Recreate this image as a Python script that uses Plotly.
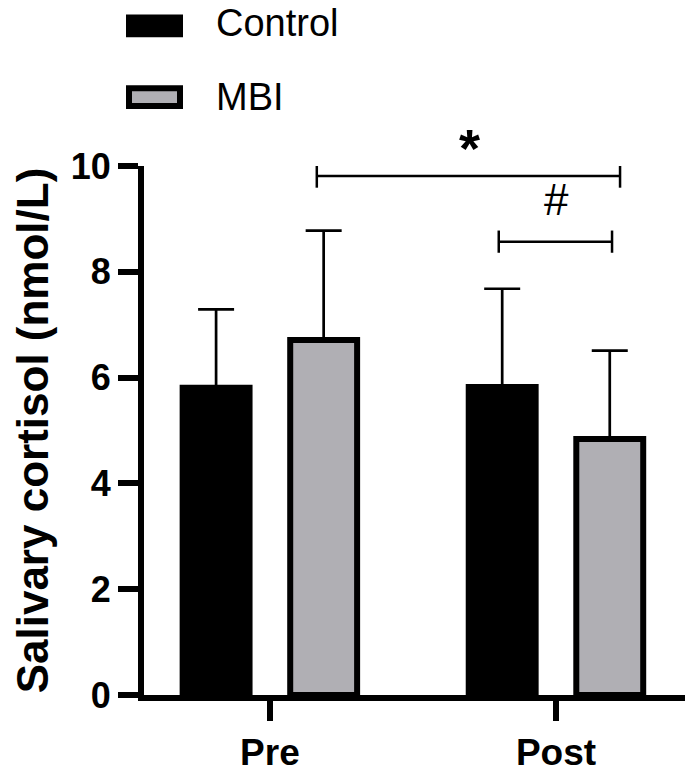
import plotly.graph_objects as go

# ---------------- data ----------------
TIMEPOINTS = ["Pre", "Post"]
GROUPS = ["Control", "MBI"]
CONTROL_MEAN = [5.81, 5.82]
CONTROL_SD = [1.48, 1.86]
MBI_MEAN = [6.71, 4.84]
MBI_SD = [2.07, 1.67]
Y_TICKS = [0, 2, 4, 6, 8, 10]

# ---------------- style ----------------
FONT = "Liberation Sans, Arial, sans-serif"
BLACK = "#000000"
GREY = "#B0AFB4"

# the page body has an 8px margin, so the figure is drawn 8px smaller
OFF = 8
W, H = 693 - OFF, 779 - OFF
L, R, T, B = 144 - OFF, 6, 166 - OFF, 75
PW, PH = W - L - R, H - T - B


def px_x(px):
    # page pixel -> paper x
    return (px - OFF - L) / PW


def px_y(py):
    # page pixel -> paper y
    return (704 - py) / PH


fig = go.Figure()

fig.add_trace(go.Bar(
    name=GROUPS[0], x=TIMEPOINTS, y=CONTROL_MEAN,
    marker=dict(color=BLACK, line=dict(color=BLACK, width=6)),
    error_y=dict(type="data", symmetric=False, array=CONTROL_SD,
                 arrayminus=[0, 0], color=BLACK, thickness=2.7, width=18),
))
fig.add_trace(go.Bar(
    name=GROUPS[1], x=TIMEPOINTS, y=MBI_MEAN,
    marker=dict(color=GREY, line=dict(color=BLACK, width=6)),
    error_y=dict(type="data", symmetric=False, array=MBI_SD,
                 arrayminus=[0, 0], color=BLACK, thickness=2.7, width=18),
))

# significance brackets
line = dict(color=BLACK, width=2.5)
shapes = []
for x0, x1, y, h in [(0.164, 1.224, 9.81, 0.22), (0.80, 1.196, 8.57, 0.21)]:
    shapes.append(dict(type="line", xref="x", yref="y", x0=x0, x1=x1, y0=y, y1=y, line=line))
    shapes.append(dict(type="line", xref="x", yref="y", x0=x0, x1=x0, y0=y - h, y1=y + h, line=line))
    shapes.append(dict(type="line", xref="x", yref="y", x0=x1, x1=x1, y0=y - h, y1=y + h, line=line))

# custom legend (wide swatches)
shapes.append(dict(type="rect", xref="paper", yref="paper",
                   x0=px_x(126), x1=px_x(183), y0=px_y(35), y1=px_y(12),
                   fillcolor=BLACK, line=dict(color=BLACK, width=0)))
shapes.append(dict(type="rect", xref="paper", yref="paper",
                   x0=px_x(129), x1=px_x(180), y0=px_y(105), y1=px_y(87),
                   fillcolor=GREY, line=dict(color=BLACK, width=6)))

annotations = [
    dict(text="<b>*</b>", x=px_x(469), y=px_y(148), xref="paper", yref="paper",
         xanchor="center", yanchor="middle", showarrow=False,
         font=dict(family=FONT, size=54, color=BLACK)),
    dict(text="#", x=px_x(556), y=px_y(200), xref="paper", yref="paper",
         xanchor="center", yanchor="middle", showarrow=False,
         font=dict(family=FONT, size=44, color=BLACK)),
    dict(text=GROUPS[0], x=px_x(214), y=px_y(21), xref="paper", yref="paper",
         xanchor="left", yanchor="middle", showarrow=False,
         font=dict(family=FONT, size=38, color=BLACK)),
    dict(text=GROUPS[1], x=px_x(214), y=px_y(96), xref="paper", yref="paper",
         xanchor="left", yanchor="middle", showarrow=False,
         font=dict(family=FONT, size=38, color=BLACK)),
]

fig.update_layout(
    width=W, height=H,
    margin=dict(l=L, r=R, t=T, b=B),
    paper_bgcolor="white", plot_bgcolor="white",
    barmode="group", bargap=0.248, bargroupgap=0.378,
    showlegend=False,
    shapes=shapes, annotations=annotations,
    font=dict(family=FONT, color=BLACK),
)

fig.update_xaxes(
    range=[-0.44, 1.458],
    showline=True, linecolor=BLACK, linewidth=6,
    ticks="outside", ticklen=20, tickwidth=6, tickcolor=BLACK,
    tickfont=dict(family=FONT, size=37, color=BLACK, weight="bold"),
    showgrid=False, zeroline=False,
)

fig.update_yaxes(
    range=[0, 10], tickvals=Y_TICKS,
    showline=True, linecolor=BLACK, linewidth=6,
    ticks="outside", ticklen=20, tickwidth=6, tickcolor=BLACK,
    tickfont=dict(family=FONT, size=36, color=BLACK, weight="bold"),
    title=dict(text="Salivary cortisol (nmol/L)", standoff=14,
               font=dict(family=FONT, size=44, color=BLACK, weight="bold")),
    showgrid=False, zeroline=False,
)

fig.write_html("out.html")
